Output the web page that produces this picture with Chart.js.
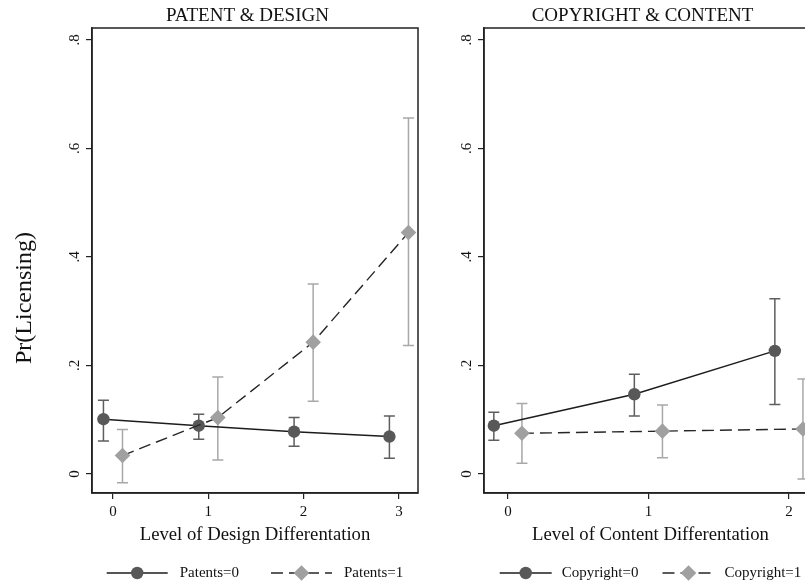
<!DOCTYPE html>
<html>
<head>
<meta charset="utf-8">
<script src="https://cdn.jsdelivr.net/npm/chart.js@4.4.1/dist/chart.umd.min.js"></script>
<style>
  html, body { margin: 0; padding: 0; background: #fff; overflow: hidden; }
  #wrap { position: relative; width: 805px; height: 584px; overflow: hidden; }
  #left { position: absolute; left: 0; top: 0; }
  #right { position: absolute; left: 440px; top: 0; }
</style>
</head>
<body>
<div id="wrap">
  <canvas id="left" width="495" height="584"></canvas>
  <canvas id="right" width="405" height="584"></canvas>
</div>
<script>
const FONT = "'Liberation Serif', 'Times New Roman', serif";

const yTicks = [0, 0.2, 0.4, 0.6, 0.8];
const yTickLabels = ["0", ".2", ".4", ".6", ".8"];

// Patent & design panel
const designLevels = [0, 1, 2, 3];
const patents0 = [0.101, 0.089, 0.078, 0.069];
const patents0Low = [0.061, 0.064, 0.051, 0.029];
const patents0High = [0.136, 0.110, 0.104, 0.107];
const patents1 = [0.034, 0.104, 0.243, 0.445];
const patents1Low = [-0.016, 0.026, 0.134, 0.237];
const patents1High = [0.082, 0.179, 0.350, 0.656];

// Copyright & content panel
const contentLevels = [0, 1, 2];
const copyright0 = [0.089, 0.147, 0.227];
const copyright0Low = [0.062, 0.107, 0.128];
const copyright0High = [0.114, 0.184, 0.323];
const copyright1 = [0.075, 0.079, 0.083];
const copyright1Low = [0.020, 0.030, -0.009];
const copyright1High = [0.130, 0.127, 0.175];

const dodge = 0.1;
const DARK = "#585858";
const LIGHT = "#a0a0a0";

// vertical CI bars with caps, drawn under the markers
const errorBars = {
  id: "errorBars",
  beforeDatasetsDraw(chart) {
    const { ctx, scales: { x, y } } = chart;
    chart.data.datasets.forEach((ds) => {
      if (!ds.errLow) return;
      ctx.save();
      ctx.strokeStyle = ds.errColor;
      ctx.lineWidth = 1.5;
      ds.data.forEach((p, i) => {
        const px = x.getPixelForValue(p.x);
        const top = y.getPixelForValue(ds.errHigh[i]);
        const bot = y.getPixelForValue(ds.errLow[i]);
        ctx.beginPath();
        ctx.moveTo(px, top);
        ctx.lineTo(px, bot);
        ctx.moveTo(px - 5.5, top);
        ctx.lineTo(px + 5.5, top);
        ctx.moveTo(px - 5.5, bot);
        ctx.lineTo(px + 5.5, bot);
        ctx.stroke();
      });
      ctx.restore();
    });
  }
};

// box around the plot region
const frame = {
  id: "frame",
  afterDraw(chart) {
    const { ctx, chartArea: a } = chart;
    ctx.save();
    ctx.strokeStyle = "#222";
    ctx.lineWidth = 1.5;
    ctx.strokeRect(a.left, a.top, a.right - a.left, a.bottom - a.top);
    ctx.restore();
  }
};

// stata-style legend: line with marker in the middle, then the label
const lineLegend = {
  id: "lineLegend",
  afterDraw(chart, args, opts) {
    const { ctx, chartArea: a } = chart;
    const L = opts.lineLen, g1 = opts.gap, g2 = opts.spacing, y = 573;
    ctx.save();
    ctx.font = "15px " + FONT;
    const sets = chart.data.datasets.slice().sort((p, q) => p.legendIndex - q.legendIndex);
    const widths = sets.map((ds) => ctx.measureText(ds.label).width);
    const total = widths.reduce((s, w) => s + L + g1 + w, 0) + g2 * (sets.length - 1);
    let x = (a.left + a.right) / 2 - total / 2;
    sets.forEach((ds, i) => {
      ctx.strokeStyle = ds.borderColor;
      ctx.lineWidth = ds.borderWidth;
      ctx.setLineDash(ds.borderDash || []);
      ctx.beginPath();
      ctx.moveTo(x, y);
      ctx.lineTo(x + L, y);
      ctx.stroke();
      ctx.setLineDash([]);
      ctx.fillStyle = ds.pointBackgroundColor;
      Chart.helpers.drawPoint(ctx, {
        pointStyle: ds.pointStyle, radius: ds.pointRadius, rotation: 0, borderWidth: 0
      }, x + L / 2, y);
      ctx.fillStyle = "#111";
      ctx.textAlign = "left";
      ctx.textBaseline = "middle";
      ctx.fillText(ds.label, x + L + g1, y);
      x += L + g1 + widths[i] + g2;
    });
    ctx.restore();
  }
};

const yTitle = {
  id: "yTitle",
  afterDraw(chart, args, opts) {
    if (!opts.text) return;
    const { ctx } = chart;
    ctx.save();
    ctx.translate(25, 298);
    ctx.rotate(-Math.PI / 2);
    ctx.font = "24px " + FONT;
    ctx.fillStyle = "#111";
    ctx.textAlign = "center";
    ctx.textBaseline = "middle";
    ctx.fillText(opts.text, 0, 0);
    ctx.restore();
  }
};

function series(label, levels, shift, vals, low, high, solid, legendIndex) {
  return {
    label: label,
    legendIndex: legendIndex,
    data: levels.map((l, i) => ({ x: l + shift, y: vals[i] })),
    errLow: low,
    errHigh: high,
    errColor: solid ? "#5e5e5e" : "#a8a8a8",
    borderColor: solid ? "#1c1c1c" : "#262626",
    borderWidth: 1.4,
    borderDash: solid ? [] : [12, 6],
    tension: 0,
    fill: false,
    pointStyle: solid ? "circle" : "rectRot",
    pointRadius: solid ? 6.2 : 7.8,
    pointBorderWidth: 0,
    pointBackgroundColor: solid ? DARK : LIGHT,
    order: solid ? 1 : 0
  };
}

function panel(id, o) {
  const axisFont = { family: FONT, size: 15 };
  return new Chart(document.getElementById(id), {
    type: "line",
    data: { datasets: o.datasets },
    options: {
      responsive: false,
      animation: false,
      events: [],
      layout: { padding: { left: 0, right: 0, top: 0, bottom: 38 } },
      plugins: {
        legend: { display: false },
        tooltip: { enabled: false },
        title: {
          display: true,
          text: o.title,
          color: "#111",
          font: { family: FONT, size: 19, weight: "normal" },
          padding: { top: 4.6, bottom: 0.6 }
        },
        yTitle: { text: o.yTitle },
        lineLegend: o.legend
      },
      scales: {
        x: {
          type: "linear",
          min: o.xMin,
          max: o.xMax,
          afterBuildTicks: (s) => { s.ticks = o.xTicks.map((v) => ({ value: v })); },
          afterFit: (s) => { s.height = 53; },
          grid: { drawOnChartArea: false, drawTicks: true, tickLength: 6, color: "#222", lineWidth: 1.2 },
          border: { display: true, color: "#222", width: 1.5 },
          ticks: { font: axisFont, color: "#111", padding: 4, maxRotation: 0 },
          title: {
            display: true,
            text: o.xTitle,
            color: "#111",
            font: { family: FONT, size: 18.7 },
            padding: { top: 0, bottom: 0 }
          }
        },
        y: {
          type: "linear",
          min: -0.035,
          max: 0.822,
          afterBuildTicks: (s) => { s.ticks = yTicks.map((v) => ({ value: v })); },
          afterFit: (s) => { s.width = o.yWidth; },
          grid: { drawOnChartArea: false, drawTicks: true, tickLength: 6, color: "#222", lineWidth: 1.2 },
          border: { display: true, color: "#222", width: 1.5 },
          ticks: {
            font: axisFont,
            color: "#111",
            minRotation: 90,
            maxRotation: 90,
            crossAlign: "center",
            padding: 5,
            callback: (v, i) => yTickLabels[i]
          }
        },
        // empty right-hand axis: reserves space so the full-width title sits where stata put it
        spacer: {
          type: "linear",
          position: "right",
          grid: { display: false },
          border: { display: false },
          ticks: { display: false },
          afterFit: (s) => { s.width = o.rightSpace; }
        }
      }
    },
    plugins: [errorBars, frame, lineLegend, yTitle]
  });
}

panel("left", {
  title: "PATENT & DESIGN",
  xTitle: "Level of Design Differentation",
  yTitle: "Pr(Licensing)",
  xTicks: designLevels,
  xMin: -0.22,
  xMax: 3.2,
  yWidth: 92,
  rightSpace: 77,
  legend: { lineLen: 61, gap: 12, spacing: 32 },
  datasets: [
    series("Patents=0", designLevels, -dodge, patents0, patents0Low, patents0High, true, 0),
    series("Patents=1", designLevels, dodge, patents1, patents1Low, patents1High, false, 1)
  ]
});

panel("right", {
  title: "COPYRIGHT & CONTENT",
  xTitle: "Level of Content Differentation",
  yTitle: "",
  xTicks: contentLevels,
  xMin: -0.17,
  xMax: 2.2,
  yWidth: 44,
  rightSpace: 28,
  legend: { lineLen: 52, gap: 10, spacing: 24 },
  datasets: [
    series("Copyright=0", contentLevels, -dodge, copyright0, copyright0Low, copyright0High, true, 0),
    series("Copyright=1", contentLevels, dodge, copyright1, copyright1Low, copyright1High, false, 1)
  ]
});
</script>
</body>
</html>
